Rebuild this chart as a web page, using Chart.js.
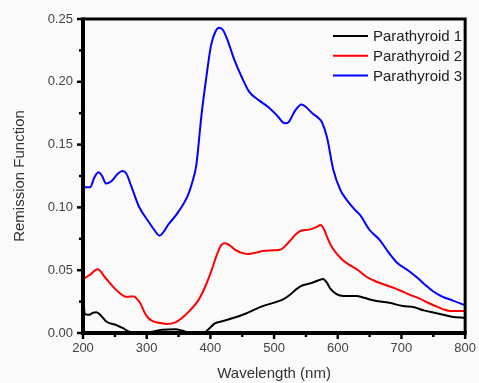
<!DOCTYPE html>
<html>
<head>
<meta charset="utf-8">
<script src="https://cdn.jsdelivr.net/npm/chart.js@4"></script>
<style>
html,body{margin:0;padding:0;background:#fafafa;}
#wrap{width:479px;height:383px;position:relative;}
</style>
</head>
<body>
<div id="wrap"><canvas id="c" width="479" height="383"></canvas></div>
<script>
// ---- data ----
const seriesNames = ["Parathyroid 1", "Parathyroid 2", "Parathyroid 3"];
const seriesColors = ["#000000", "#ff0000", "#0000ff"];

const wl1 = [200,203,210,215,221,228,237,252,262,273,288,309,325,345,355,366,380,389,397,407,420,433,454,480,505,515,524,533,542,560,570,577,583,588,598,609,629,642,655,681,702,720,735,753,779,800];
const p1  = [0.030,0.015,0.0145,0.016,0.0165,0.014,0.009,0.0064,0.004,0.001,0.0,0.001,0.0025,0.003,0.002,0.0003,0.0,0.0,0.003,0.0077,0.0095,0.0115,0.0151,0.021,0.025,0.027,0.030,0.034,0.0374,0.040,0.042,0.043,0.040,0.0356,0.031,0.0295,0.0295,0.028,0.026,0.024,0.0215,0.0205,0.018,0.016,0.013,0.012];

const wl2 = [200,210,223,235,247,257,267,275,280,285,290,297,303,310,319,332,345,355,368,381,392,402,410,417,423,430,438,448,459,472,485,500,511,519,526,535,542,557,567,573,578,583,590,598,608,619,632,645,660,676,690,702,715,728,740,753,765,777,800];
const p2  = [0.043,0.046,0.0507,0.044,0.0369,0.032,0.0289,0.029,0.029,0.027,0.0236,0.016,0.0117,0.0092,0.0082,0.0072,0.0085,0.0117,0.018,0.026,0.037,0.050,0.062,0.070,0.0714,0.070,0.0666,0.064,0.0629,0.064,0.0655,0.0658,0.0666,0.070,0.074,0.079,0.0814,0.0825,0.0845,0.086,0.083,0.0767,0.069,0.0634,0.058,0.054,0.050,0.0448,0.041,0.038,0.0355,0.0329,0.030,0.0276,0.0245,0.0215,0.019,0.0175,0.0175];

const wl3 = [200,211,218,224,230,236,245,255,262,268,275,288,303,312,320,335,350,365,371,378,386,394,401,408,414,420,427,438,449,461,477,493,505,517,523,533,543,550,560,570,575,583,593,604,614,627,635,650,666,680,694,710,725,738,750,764,780,800];
const p3  = [0.116,0.116,0.124,0.128,0.125,0.119,0.121,0.127,0.129,0.127,0.118,0.1005,0.0886,0.082,0.0775,0.087,0.0966,0.110,0.119,0.134,0.1735,0.205,0.229,0.240,0.243,0.241,0.233,0.217,0.204,0.192,0.185,0.179,0.173,0.167,0.168,0.177,0.182,0.180,0.175,0.171,0.168,0.156,0.130,0.114,0.106,0.098,0.094,0.082,0.074,0.064,0.0555,0.050,0.044,0.038,0.033,0.029,0.026,0.022];

const xTicks = [200,300,400,500,600,700,800];
const yTicks = [0,0.05,0.10,0.15,0.20,0.25];

function pts(xs, ys){ return xs.map((x,i)=>({x:x, y:ys[i]})); }
const allX = [wl1, wl2, wl3];
const allY = [p1, p2, p3];

const FONT = "'Liberation Sans', Arial, sans-serif";

const framePlugin = {
  id: 'frame',
  beforeDraw(chart){
    const ctx = chart.ctx;
    ctx.save();
    ctx.fillStyle = '#fafafa';
    ctx.fillRect(0,0,chart.width,chart.height);
    ctx.restore();
  },
  afterDraw(chart){
    const ctx = chart.ctx, a = chart.chartArea;
    const xs = chart.scales.x, ys = chart.scales.y;
    ctx.save();
    ctx.strokeStyle = '#000';
    ctx.lineCap = 'butt';
    // ticks
    ctx.lineWidth = 2.5;
    for (let v = 200; v <= 800; v += 50) {
      const px = xs.getPixelForValue(v);
      const len = (v % 100 === 0) ? 6 : 4;
      ctx.beginPath(); ctx.moveTo(px, a.bottom); ctx.lineTo(px, a.bottom + len); ctx.stroke();
    }
    for (let i = 0; i <= 10; i++) {
      const v = i * 0.025;
      const py = ys.getPixelForValue(v);
      const len = (i % 2 === 0) ? 6 : 4;
      ctx.beginPath(); ctx.moveTo(a.left, py); ctx.lineTo(a.left - len, py); ctx.stroke();
    }
    // frame
    ctx.lineWidth = 3;
    ctx.beginPath();
    ctx.moveTo(a.left, a.top); ctx.lineTo(a.right, a.top); ctx.lineTo(a.right, a.bottom);
    ctx.stroke();
    ctx.lineWidth = 4;
    ctx.beginPath();
    ctx.moveTo(a.left, a.top - 1.5); ctx.lineTo(a.left, a.bottom); ctx.lineTo(a.right + 1.5, a.bottom);
    ctx.stroke();
    // legend
    ctx.font = '15px ' + FONT;
    ctx.textBaseline = 'middle';
    ctx.textAlign = 'left';
    chart.data.datasets.forEach((ds, i) => {
      const y = 36 + i * 19.7;
      ctx.strokeStyle = ds.borderColor;
      ctx.lineWidth = 2;
      ctx.beginPath(); ctx.moveTo(333, y); ctx.lineTo(368, y); ctx.stroke();
      ctx.fillStyle = '#222';
      ctx.fillText(ds.label, 373, y + 1);
    });
    ctx.restore();
  }
};

new Chart(document.getElementById('c'), {
  type: 'line',
  data: {
    datasets: seriesNames.map((n, i) => ({
      label: n,
      data: pts(allX[i], allY[i]),
      borderColor: seriesColors[i],
      backgroundColor: seriesColors[i],
      borderWidth: 2,
      pointRadius: 0,
      cubicInterpolationMode: 'monotone',
      fill: false
    }))
  },
  options: {
    responsive: false,
    animation: false,
    events: [],
    layout: { padding: { top: 19, right: 9, left: 0, bottom: 0 } },
    plugins: { legend: { display: false }, tooltip: { enabled: false } },
    scales: {
      x: {
        type: 'linear', min: 200, max: 800,
        afterBuildTicks(s){ s.ticks = xTicks.map(v => ({value: v})); },
        afterFit(s){ s.height = 50; },
        grid: { drawOnChartArea: false, drawTicks: true, tickLength: 5, color: 'rgba(0,0,0,0)' },
        border: { display: false },
        ticks: { padding: 3, color: '#444', font: { size: 13, family: FONT }, maxRotation: 0, callback: v => String(v) },
        title: { display: true, text: 'Wavelength (nm)', color: '#333', font: { size: 15, family: FONT }, padding: { top: 3, bottom: 0 } }
      },
      y: {
        type: 'linear', min: 0, max: 0.25,
        afterBuildTicks(s){ s.ticks = yTicks.map(v => ({value: v})); },
        afterFit(s){ s.width = 83; },
        grid: { drawOnChartArea: false, drawTicks: true, tickLength: 5, color: 'rgba(0,0,0,0)' },
        border: { display: false },
        ticks: { padding: 5, color: '#444', font: { size: 13, family: FONT }, callback: v => v.toFixed(2) },
        title: { display: true, text: 'Remission Function', color: '#333', font: { size: 15, family: FONT }, padding: { top: 11, bottom: 0 } }
      }
    }
  },
  plugins: [framePlugin]
});
</script>
</body>
</html>
